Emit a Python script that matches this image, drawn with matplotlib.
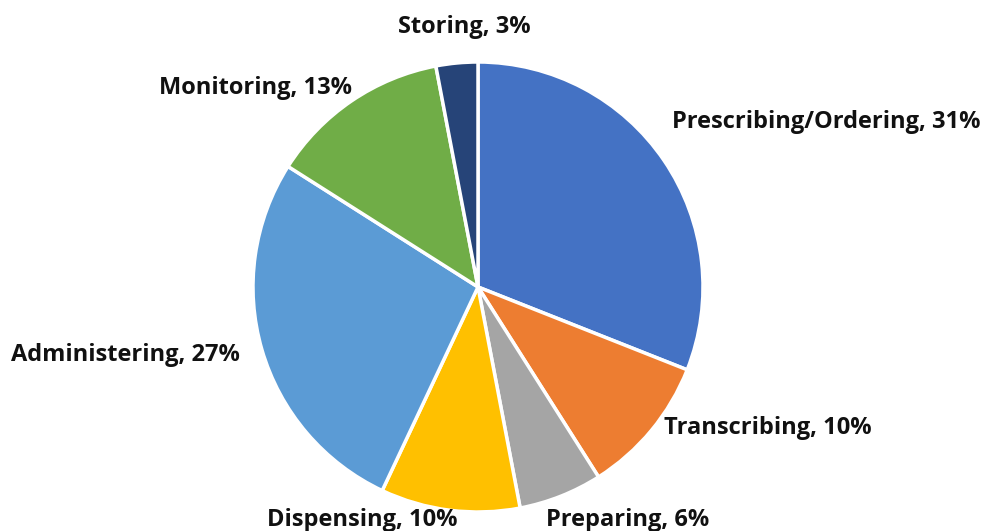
import matplotlib
matplotlib.use("Agg")
import matplotlib.pyplot as plt

categories = ["Prescribing/Ordering", "Transcribing", "Preparing", "Dispensing",
              "Administering", "Monitoring", "Storing"]
shares = [31, 10, 6, 10, 27, 13, 3]
colors = ["#4472C4", "#ED7D31", "#A5A5A5", "#FFC000", "#5B9BD5", "#70AD47", "#264478"]

# label placement (in pie-radius units, relative to the centre) and alignment
label_pos = [(0.862, 0.733), (0.827, -0.627), (0.302, -1.035), (-0.089, -1.035),
             (-1.058, -0.302), (-0.56, 0.885), (-0.062, 1.155)]
label_ha = ["left", "left", "left", "right", "right", "right", "center"]

W, H = 985, 531
fig = plt.figure(figsize=(W / 100, H / 100), dpi=100)
cx, cy, r = 478, 531 - 287, 225
ax = fig.add_axes([(cx - r) / W, (cy - r) / H, 2 * r / W, 2 * r / H])

ax.pie(shares, colors=colors, startangle=90, counterclock=False,
       wedgeprops=dict(edgecolor="white", linewidth=2.5), radius=1.0)
ax.set_xlim(-1, 1)
ax.set_ylim(-1, 1)
ax.set_aspect("equal")
ax.axis("off")

for name, val, (x, y), ha in zip(categories, shares, label_pos, label_ha):
    ax.text(x, y, f"{name}, {val}%", ha=ha, va="center", fontsize=17,
            fontweight="bold", family=["Open Sans", "DejaVu Sans"], color="#111111",
            clip_on=False)

fig.savefig("out.png", dpi=100)
